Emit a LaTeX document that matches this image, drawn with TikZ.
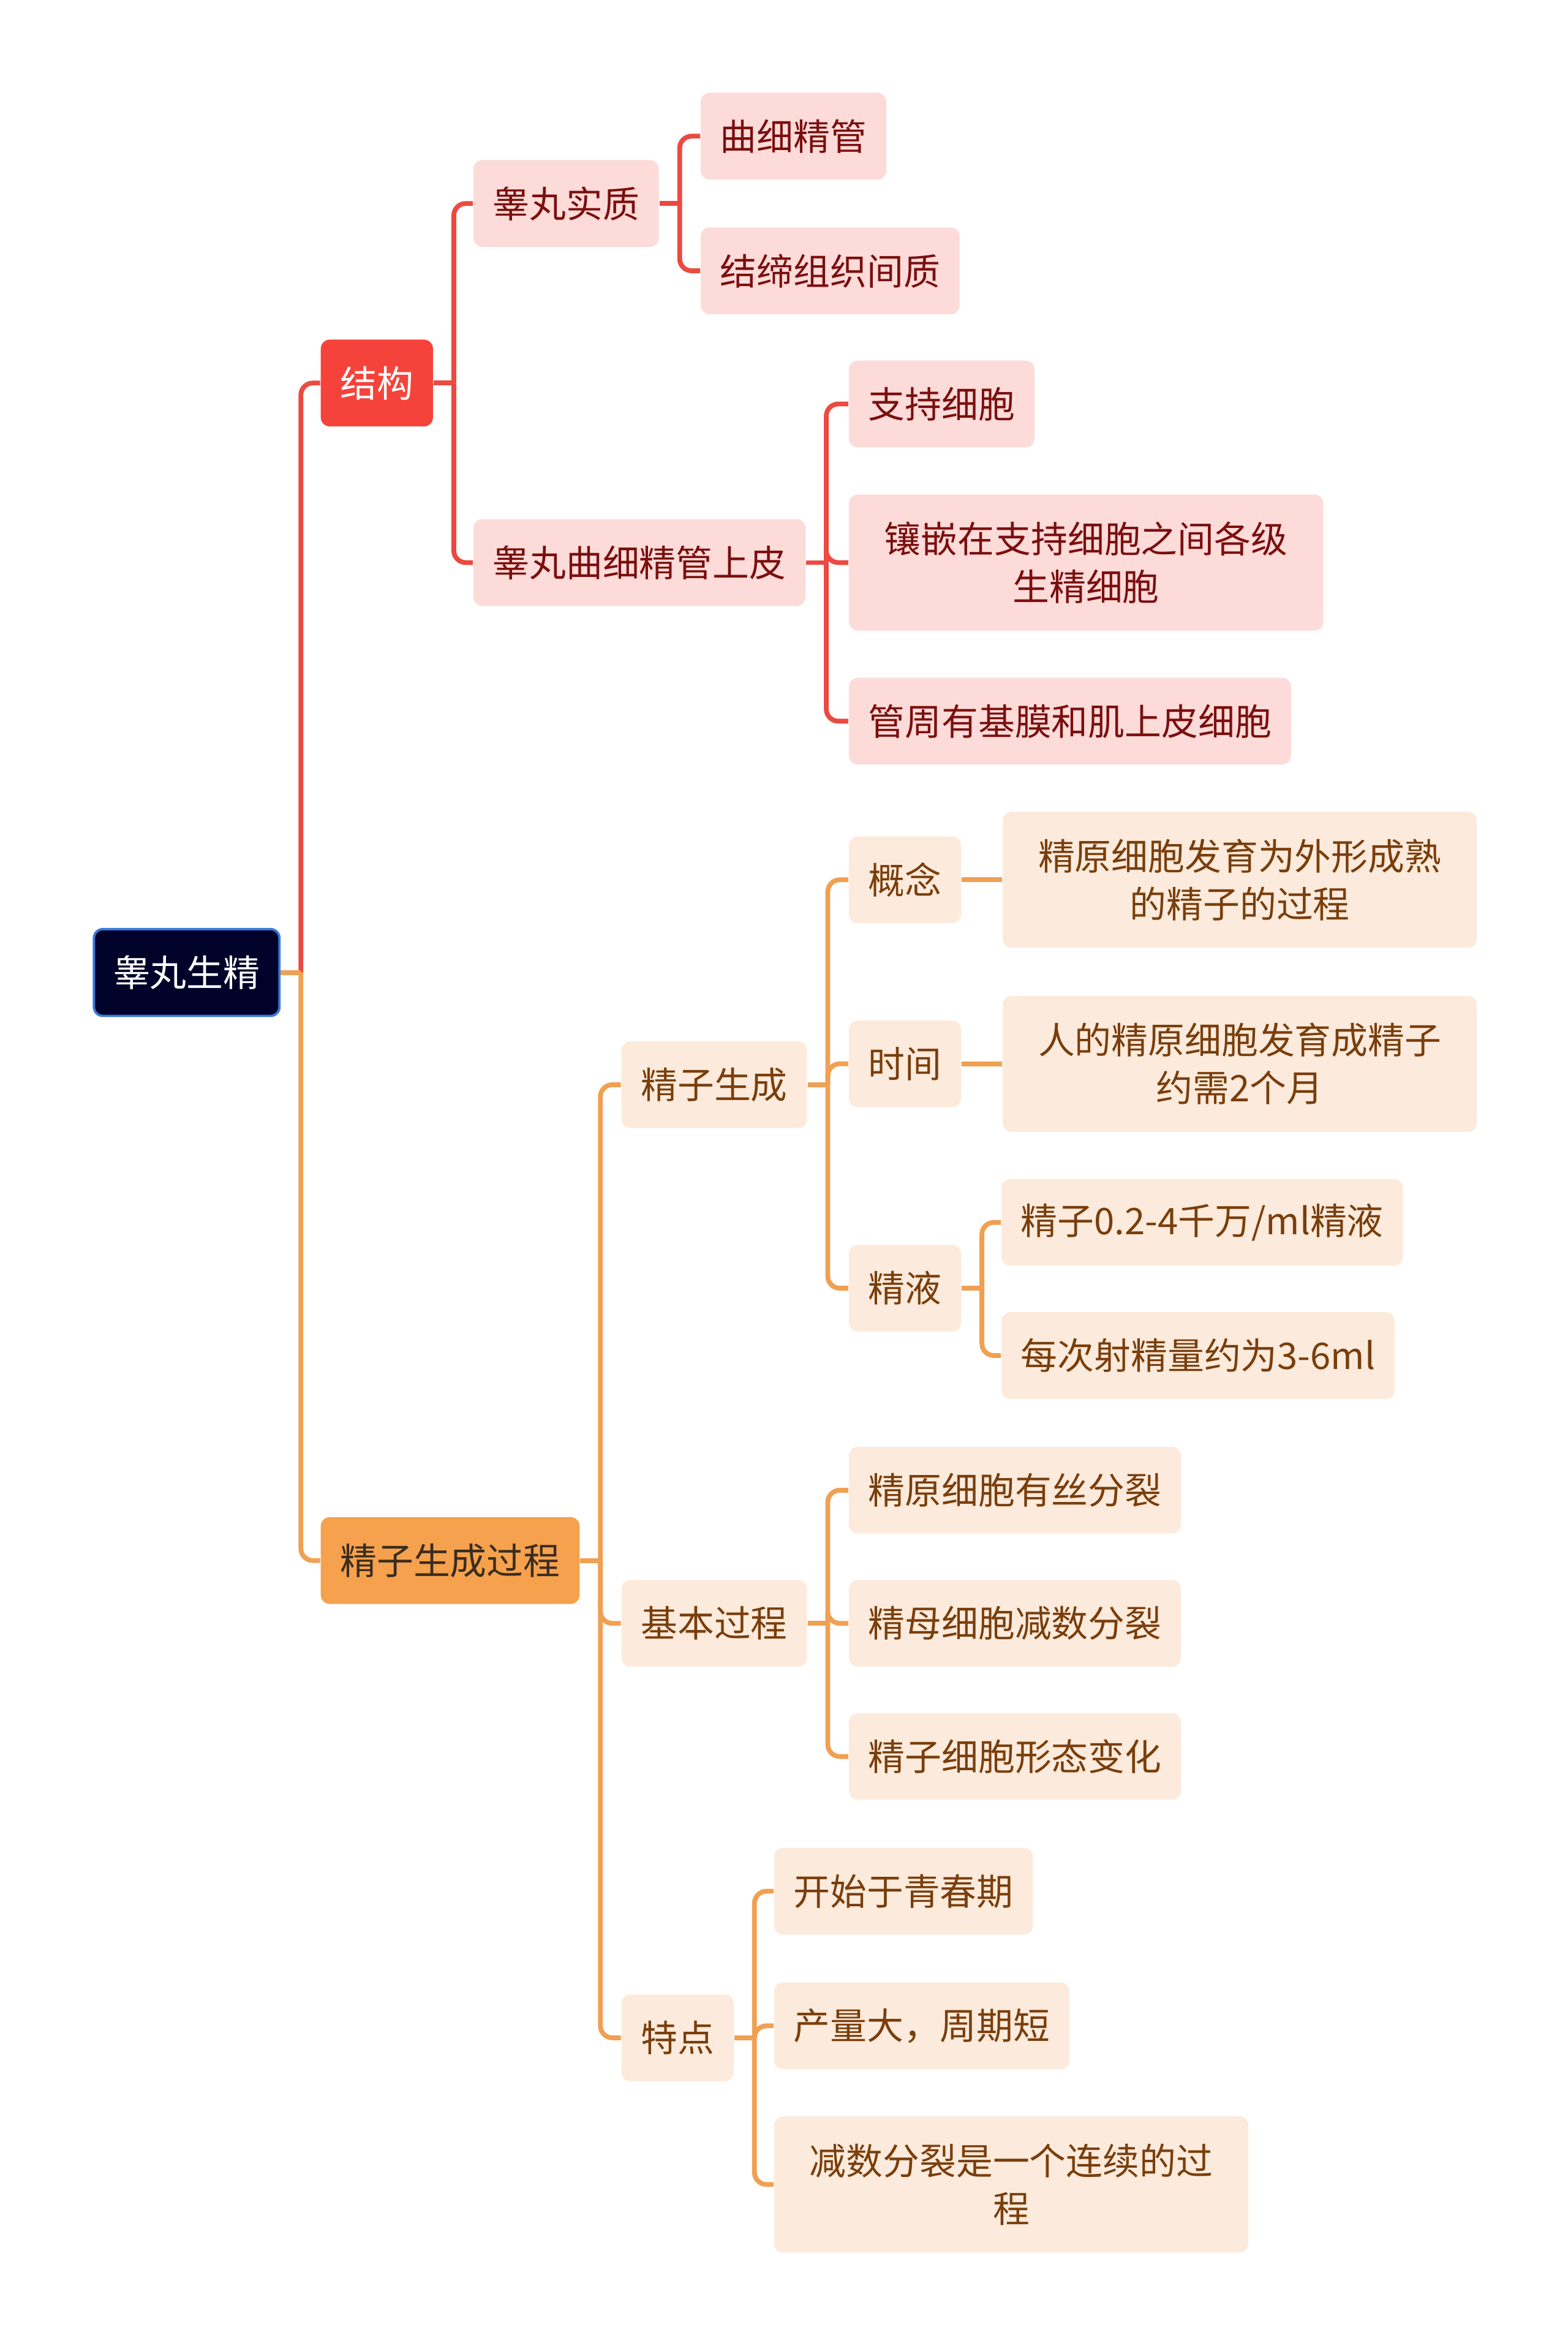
\documentclass[tikz,border=0pt]{standalone}
\usepackage{fontspec}
\newfontfamily\cjk{Noto Sans CJK SC}
\usepackage{xcolor}
\usetikzlibrary{positioning,calc}
\definecolor{rootfill}{HTML}{000229}
\definecolor{rootline}{HTML}{3A78D8}
\definecolor{redmain}{HTML}{F5433B}
\definecolor{redline}{HTML}{EC4A40}
\definecolor{pinkfill}{HTML}{FDDBD9}
\definecolor{redtext}{HTML}{7B0F0F}
\definecolor{orgmain}{HTML}{F5A14D}
\definecolor{orgline}{HTML}{F0A052}
\definecolor{peachfill}{HTML}{FCEBDC}
\definecolor{browntext}{HTML}{7A3E0C}
\definecolor{toptext}{HTML}{3A2C1E}

\begin{document}
\begin{tikzpicture}[x=0.5pt,y=-0.5pt,
  every node/.style={font=\cjk\fontsize{12.25}{16}\selectfont},
  box/.style={rounded corners=3pt,minimum height=29pt,inner xsep=6.5pt,anchor=west},
  rootbox/.style={box,draw=rootline,line width=0.8pt,fill=rootfill,text=white},
  redtop/.style={box,fill=redmain,text=white},
  redbox/.style={box,fill=pinkfill,text=redtext},
  orgtop/.style={box,fill=orgmain,text=toptext},
  orgbox/.style={box,fill=peachfill,text=browntext},
  wide/.style={text width=145.5pt,align=center,minimum height=45.5pt},
  redln/.style={draw=redline,line width=1.6pt,rounded corners=4pt},
  orgln/.style={draw=orgline,line width=1.6pt,rounded corners=4pt}]
\useasboundingbox (0,0) rectangle (1048,1568);

% root and main branches
\node[rootbox] (root) at (62,650) {睾丸生精};
\node[redtop] (jiegou) at (214,256) {结构};
\node[orgtop] (guocheng) at (214,1043) {精子生成过程};

% structure
\node[redbox] (shizhi) at (316,136) {睾丸实质};
\node[redbox] (shangpi) at (316,376) {睾丸曲细精管上皮};
\node[redbox] (qxjg) at (468,91) {曲细精管};
\node[redbox] (jdzz) at (468,181) {结缔组织间质};
\node[redbox] (zcxb) at (567,270) {支持细胞};
\node[redbox,wide] (xqxb) at (567,376) {镶嵌在支持细胞之间各级\\生精细胞};
\node[redbox] (gzjm) at (567,482) {管周有基膜和肌上皮细胞};

% process
\node[orgbox] (jzsc) at (415,725) {精子生成};
\node[orgbox] (jbgc) at (415,1085) {基本过程};
\node[orgbox] (tedian) at (415,1362) {特点};
\node[orgbox] (gainian) at (567,588) {概念};
\node[orgbox] (shijian) at (567,711) {时间};
\node[orgbox] (jingye) at (567,861) {精液};
\node[orgbox,wide,right=13.5pt of gainian] (gnDef) {精原细胞发育为外形成熟\\的精子的过程};
\node[orgbox,wide,right=13.5pt of shijian] (sjDef) {人的精原细胞发育成精子\\约需2个月};
\node[orgbox] (jy1) at (669,817) {精子0.2-4千万/ml精液};
\node[orgbox] (jy2) at (669,906) {每次射精量约为3-6ml};
\node[orgbox] (gc1) at (567,996) {精原细胞有丝分裂};
\node[orgbox] (gc2) at (567,1085) {精母细胞减数分裂};
\node[orgbox] (gc3) at (567,1174) {精子细胞形态变化};
\node[orgbox] (td1) at (517,1264) {开始于青春期};
\node[orgbox] (td2) at (517,1354) {产量大，周期短};
\node[orgbox,wide] (td3) at (517,1460) {减数分裂是一个连续的过\\程};

% junctions
\foreach \p in {root,jiegou,shizhi,shangpi,guocheng,jzsc,jbgc,tedian,jingye}
  \coordinate (\p-j) at ($(\p.east)+(6.75pt,0)$);

% connectors
\draw[redln] (root-j) |- (jiegou.west);
\foreach \p in {jiegou,shizhi,shangpi}
  \draw[redln] (\p.east) -- (\p-j);
\foreach \p/\c in {jiegou/shizhi,jiegou/shangpi,shizhi/qxjg,shizhi/jdzz,
  shangpi/zcxb,shangpi/xqxb,shangpi/gzjm}
  \draw[redln] (\p-j) |- (\c.west);

\draw[orgln] (root.east) -- (root-j);
\draw[orgln] (root-j) |- (guocheng.west);
\foreach \p in {guocheng,jzsc,jbgc,tedian,jingye}
  \draw[orgln] (\p.east) -- (\p-j);
\foreach \p/\c in {guocheng/jzsc,guocheng/jbgc,guocheng/tedian,
  jzsc/gainian,jzsc/shijian,jzsc/jingye,jingye/jy1,jingye/jy2,
  jbgc/gc1,jbgc/gc2,jbgc/gc3,tedian/td1,tedian/td2,tedian/td3}
  \draw[orgln] (\p-j) |- (\c.west);
\draw[orgln] (gainian) -- (gnDef);
\draw[orgln] (shijian) -- (sjDef);
\end{tikzpicture}
\end{document}
